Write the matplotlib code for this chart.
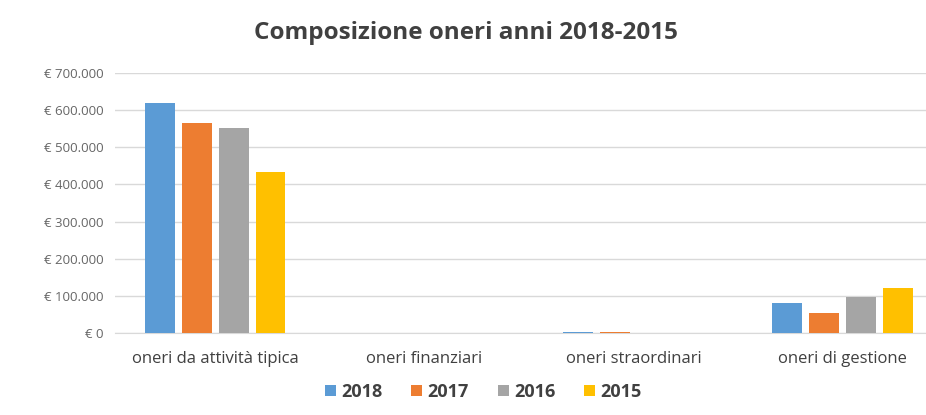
import matplotlib.pyplot as plt
import numpy as np

categorie = ["oneri da attività tipica", "oneri finanziari", "oneri straordinari", "oneri di gestione"]
anni = ["2018", "2017", "2016", "2015"]
v2018 = [620000, 500, 4000, 81000]
v2017 = [565000, 400, 2000, 54000]
v2016 = [552000, 300, 1000, 97000]
v2015 = [434000, 200, 500, 121000]
colori = ["#5B9BD5", "#ED7D31", "#A5A5A5", "#FFC000"]
yticks = [0, 100000, 200000, 300000, 400000, 500000, 600000, 700000]

plt.rcParams['font.family'] = ['Open Sans', 'DejaVu Sans']

fig = plt.figure(figsize=(9.26, 4.15), dpi=100)
ax = fig.add_axes([115 / 926, 1 - 333 / 415, 1 - 115 / 926, (333 - 73) / 415])

x = np.arange(len(categorie))
w = 0.143
passo = 0.176
serie = [v2018, v2017, v2016, v2015]
for i, (vals, anno, c) in enumerate(zip(serie, anni, colori)):
    ax.bar(x + (i - 1.5) * passo, vals, width=w, color=c, label=anno, zorder=3)

ax.set_xlim(-0.48, 3.4)
ax.set_ylim(0, 700000)
ax.set_yticks(yticks)
ax.set_yticklabels(["€ " + f"{v:,}".replace(",", ".") if v else "€ 0" for v in yticks],
                   fontsize=9.5, color="#666666")
ax.set_xticks(x)
ax.set_xticklabels(categorie, fontsize=12, color="#404040")
ax.tick_params(axis="y", length=0, pad=8)
ax.tick_params(axis="x", length=0, pad=13)
ax.grid(axis="y", color="#D9D9D9", linewidth=1, zorder=0)
for s in ["top", "right", "left"]:
    ax.spines[s].set_visible(False)
ax.spines["bottom"].set_color("#D9D9D9")

fig.suptitle("Composizione oneri anni 2018-2015", x=0.503, y=0.95, fontsize=17.5,
             fontweight="bold", color="#404040")
fig.legend(loc="lower center", bbox_to_anchor=(0.522, -0.005), ncol=4, frameon=False,
           handlelength=0.6, handleheight=0.6, handletextpad=0.3,
           columnspacing=1.6, prop={"weight": "bold", "size": 13})
for t in fig.legends[0].get_texts():
    t.set_color("#404040")

fig.savefig("out.png", dpi=100)
